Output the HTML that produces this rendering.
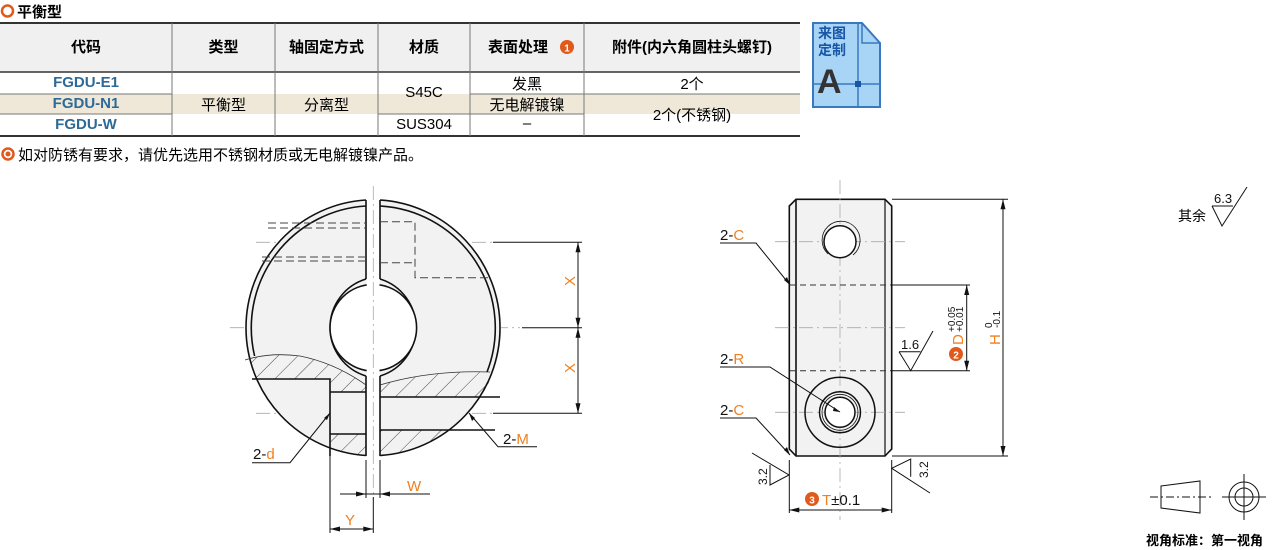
<!DOCTYPE html>
<html><head><meta charset="utf-8"><style>
body{margin:0;width:1279px;height:550px;background:#fff;position:relative;overflow:hidden;font-family:"Liberation Sans","Noto Sans CJK SC",sans-serif;}
.t{position:absolute;white-space:nowrap;font-family:"Liberation Sans","Noto Sans CJK SC",sans-serif;}
</style></head><body>
<svg width="1279" height="550" style="position:absolute;left:0;top:0" xmlns="http://www.w3.org/2000/svg">
<defs>
<pattern id="h" width="14" height="14" patternUnits="userSpaceOnUse" patternTransform="rotate(45)"><line x1="0" y1="0" x2="0" y2="14" stroke="#333" stroke-width="0.9"/></pattern>
<clipPath id="c"><circle cx="373.3" cy="327.7" r="128"/></clipPath>
</defs>
<circle cx="7.5" cy="11" r="5.5" fill="none" stroke="#e05a1c" stroke-width="2.5"/>
<rect x="0" y="23" width="800" height="49" fill="#f0f0f0"/>
<rect x="0" y="94" width="800" height="20" fill="#efe8d8"/>
<line x1="0" y1="23" x2="800" y2="23" stroke="#333" stroke-width="2"/>
<line x1="0" y1="72" x2="800" y2="72" stroke="#333" stroke-width="1.5"/>
<line x1="0" y1="136" x2="800" y2="136" stroke="#333" stroke-width="2"/>
<g stroke="#777" stroke-width="1">
<line x1="172" y1="23" x2="172" y2="136"/><line x1="275" y1="23" x2="275" y2="136"/><line x1="378" y1="23" x2="378" y2="136"/><line x1="470" y1="23" x2="470" y2="136"/><line x1="584" y1="23" x2="584" y2="136"/>
<line x1="0" y1="94" x2="172" y2="94"/><line x1="0" y1="114" x2="172" y2="114"/>
<line x1="378" y1="114" x2="470" y2="114"/>
<line x1="470" y1="94" x2="800" y2="94"/><line x1="470" y1="114" x2="584" y2="114"/>
</g>
<circle cx="567" cy="47" r="7" fill="#e05a1c"/>
<text x="567" y="51.5" font-size="10" font-weight="bold" fill="#fff" text-anchor="middle" font-family="Liberation Sans">1</text>
<circle cx="8" cy="154" r="5.5" fill="none" stroke="#e05a1c" stroke-width="2.5"/><circle cx="8" cy="154" r="2.5" fill="#e05a1c"/>
<path d="M813,23 H862 L880,43 V107 H813 Z" fill="#a8d4f5" stroke="#3a78c0" stroke-width="2"/>
<path d="M862,23 V43 H880" fill="none" stroke="#3a78c0" stroke-width="1.5"/>
<line x1="858" y1="23" x2="858" y2="107" stroke="#3a78c0" stroke-width="1.5"/>
<line x1="813" y1="84" x2="880" y2="84" stroke="#3a78c0" stroke-width="1.5"/>
<rect x="855" y="81" width="6" height="6" fill="#1a56a8"/>

<g stroke="#aaa" stroke-width="0.8" stroke-dasharray="14,4,2,4">
<line x1="256" y1="242.3" x2="495" y2="242.3"/>
<line x1="230" y1="327.7" x2="520" y2="327.7"/>
<line x1="256" y1="413.3" x2="495" y2="413.3"/>
</g>
<g clip-path="url(#c)">
<circle cx="373.3" cy="327.7" r="128" fill="#f2f2f2"/>
<path d="M245,360 Q270,352 300,356 Q335,363 366,385 V392 H330 V379 H245 Z" fill="url(#h)"/>
<rect x="330" y="434" width="36" height="30" fill="url(#h)"/>
<path d="M380,385 Q430,370 500,372 V397 H380 Z" fill="url(#h)"/>
<rect x="380" y="430" width="130" height="40" fill="url(#h)"/>
</g>
<g fill="none" stroke="#111" stroke-width="1.6">
<path d="M366,200 A128,128 0 0 0 366,455.5"/>
<path d="M380,200 A128,128 0 0 1 380,455.5"/>
<path d="M366,206 A122,122 0 0 0 254.6,356"/>
<path d="M380,206 A122,122 0 0 1 487,372"/>
<path d="M366,279 A50.7,50.7 0 0 0 366,376 M380,279 A50.7,50.7 0 0 1 380,376"/>
<circle cx="373.3" cy="327.7" r="43.3" fill="#fff"/>
<path d="M252,379 H330 V456"/>
<path d="M330,392 H366 M330,434 H366"/>
<path d="M380,397 H500 M380,430 H495"/>
</g>
<rect x="366.7" y="196" width="12.8" height="262" fill="#fff"/>
<path d="M366,200 V279 M366,376 V456 M380,200 V279 M380,376 V456" stroke="#111" stroke-width="1.6" fill="none"/>
<line x1="373.3" y1="186" x2="373.3" y2="500" stroke="#aaa" stroke-width="0.8" stroke-dasharray="14,4,2,4"/>
<path d="M245,360 Q270,352 300,356 Q335,363 366,385" fill="none" stroke="#333" stroke-width="0.8"/>
<path d="M380,385 Q430,370 490,372" fill="none" stroke="#333" stroke-width="0.8"/>
<g stroke="#444" stroke-width="1" stroke-dasharray="8,4" fill="none">
<path d="M268,223 H366 M268,228 H366 M262,257 H366 M262,261 H366"/>
<path d="M380,221.7 H415 V277.7 H490 M380,262.7 H415"/>
</g>
<g stroke="#111" stroke-width="1" fill="none">
<line x1="493" y1="242.3" x2="582" y2="242.3"/>
<line x1="522" y1="327.7" x2="582" y2="327.7"/>
<line x1="493" y1="413.3" x2="582" y2="413.3"/>
<line x1="578" y1="242.3" x2="578" y2="413.3"/>
<path d="M330,413 L290,462.7 H252"/>
<path d="M469,413 L498,446.7 H537"/>
<line x1="366" y1="460" x2="366" y2="498"/><line x1="380" y1="460" x2="380" y2="498"/>
<line x1="340" y1="494" x2="430" y2="494"/>
<line x1="330" y1="456" x2="330" y2="533"/><line x1="373.3" y1="497" x2="373.3" y2="533"/>
<line x1="330" y1="529" x2="373" y2="529"/>
</g>
<g fill="#111">
<path d="M578,242.3 l-2.5,10 h5z M578,327.7 l-2.5,-10 h5z M578,327.7 l-2.5,10 h5z M578,413.3 l-2.5,-10 h5z"/>
<path d="M330,413 l-6,5 l3,2z M469,413 l3,8 l3,-3z"/>
<path d="M366,494 l-10,-2.5 v5z M380,494 l10,-2.5 v5z M330,529 l10,-2.5 v5z M373.3,529 l-10,-2.5 v5z"/>
</g>

<path d="M796,199.3 H885 L891.7,206 V449 L885,456 H796 L789.3,449 V206 Z" fill="#f2f2f2" stroke="#111" stroke-width="1.6"/>
<line x1="796" y1="199.3" x2="796" y2="456" stroke="#111" stroke-width="1.6"/>
<line x1="885" y1="199.3" x2="885" y2="456" stroke="#111" stroke-width="1.2"/>
<g stroke="#aaa" stroke-width="0.8" stroke-dasharray="14,4,2,4">
<line x1="840" y1="180" x2="840" y2="520"/>
<line x1="775" y1="241.7" x2="905" y2="241.7"/>
<line x1="775" y1="327.7" x2="905" y2="327.7"/>
<line x1="775" y1="412.3" x2="905" y2="412.3"/>
</g>
<g stroke="#333" stroke-width="1" stroke-dasharray="6,4"><line x1="790" y1="285" x2="891" y2="285"/><line x1="790" y1="370.7" x2="891" y2="370.7"/></g>
<g fill="none" stroke="#111" stroke-width="1.5">
<circle cx="840" cy="241.7" r="16" fill="#fff"/>
<path d="M828,254 A19,19 0 1 1 853,255" stroke-width="0.8"/>
<circle cx="840" cy="412.3" r="35"/>
<circle cx="840" cy="412.3" r="20.5"/>
<circle cx="840" cy="412.3" r="18" stroke-width="0.8"/>
<circle cx="840" cy="412.3" r="15" fill="#fff"/>
</g>
<g stroke="#111" stroke-width="1" fill="none">
<path d="M720,243 H756 L790,285"/><path d="M720,367 H770 L840,412"/><path d="M720,418 H756 L790,455"/>
<line x1="892" y1="199.3" x2="1008" y2="199.3"/><line x1="892" y1="456" x2="1008" y2="456"/>
<line x1="1003" y1="199.3" x2="1003" y2="456"/>
<line x1="892" y1="285" x2="970" y2="285"/><line x1="892" y1="370.7" x2="970" y2="370.7"/>
<line x1="966.7" y1="285" x2="966.7" y2="370.7"/>
<path d="M899,351.7 H920.5 M899,351.7 L910.7,370.7 L933,331"/>
<line x1="789.3" y1="460" x2="789.3" y2="513"/><line x1="891.7" y1="460" x2="891.7" y2="513"/>
<line x1="789.3" y1="510" x2="891.7" y2="510"/>
<path d="M752,453 L789,475 L770,485 V465"/>
<path d="M930,493 L891.7,468.3 L910.7,459 V476.7"/>
<path d="M1212,206 H1233 M1212,206 L1222,226 L1247,187"/>
</g>
<g fill="#111">
<path d="M790,285 l-3,-8 l-3,3z M840,412 l-6,-5 l-1,4z M790,455 l-3,-8 l-3,3z"/>
<path d="M1003,199.3 l-2.5,10 h5z M1003,456 l-2.5,-10 h5z M966.7,285 l-2.5,10 h5z M966.7,370.7 l-2.5,-10 h5z"/>
<path d="M789.3,510 l10,-2.5 v5z M891.7,510 l-10,-2.5 v5z"/>
</g>
<circle cx="956" cy="354" r="7" fill="#e05a1c"/>
<text x="956" y="358.5" font-size="10" font-weight="bold" fill="#fff" text-anchor="middle" font-family="Liberation Sans">2</text>
<circle cx="812" cy="499" r="7" fill="#e05a1c"/>
<text x="812" y="503.5" font-size="10" font-weight="bold" fill="#fff" text-anchor="middle" font-family="Liberation Sans">3</text>
<g font-family="Liberation Sans" font-size="15" fill="#111">
<text x="253" y="459">2-<tspan fill="#f08020">d</tspan></text>
<text x="503" y="444">2-<tspan fill="#f08020">M</tspan></text>
<text x="407" y="491" fill="#f08020">W</text>
<text x="345" y="525" fill="#f08020">Y</text>
<text x="720" y="240">2-<tspan fill="#f08020">C</tspan></text>
<text x="720" y="364">2-<tspan fill="#f08020">R</tspan></text>
<text x="720" y="415">2-<tspan fill="#f08020">C</tspan></text>
<text x="822" y="505"><tspan fill="#f08020">T</tspan>±0.1</text>
<text x="901" y="349" font-size="13">1.6</text>
<text x="1214" y="203" font-size="13">6.3</text>
<text transform="translate(575,286) rotate(-90)" fill="#f08020">X</text>
<text transform="translate(575,373) rotate(-90)" fill="#f08020">X</text>
<text transform="translate(963,345) rotate(-90)" fill="#f08020">D</text>
<text transform="translate(955,332) rotate(-90)" font-size="10">+0.05</text>
<text transform="translate(963,332) rotate(-90)" font-size="10">+0.01</text>
<text transform="translate(1000,345) rotate(-90)" fill="#f08020">H</text>
<text transform="translate(992,328) rotate(-90)" font-size="10">0</text>
<text transform="translate(1000,328) rotate(-90)" font-size="10">-0.1</text>
<text transform="translate(767,485) rotate(-90)" font-size="12">3.2</text>
<text transform="translate(928,478) rotate(-90)" font-size="12">3.2</text>
</g>
<g stroke="#111" stroke-width="1" fill="none">
<path d="M1161,486 L1200,481 V513 L1161,508 Z"/>
<line x1="1150" y1="497" x2="1212" y2="497" stroke-dasharray="8,3,2,3"/>
<circle cx="1244" cy="497" r="15"/><circle cx="1244" cy="497" r="9"/>
<line x1="1222" y1="497" x2="1266" y2="497"/><line x1="1244" y1="474" x2="1244" y2="520"/>
</g>
</svg>
<div class="t" style="left:17px;top:1px;font-size:15px;font-weight:bold;">平衡型</div>
<div class="t" style="left:0;top:36px;width:172px;text-align:center;font-size:15px;font-weight:bold">代码</div>
<div class="t" style="left:172px;top:36px;width:103px;text-align:center;font-size:15px;font-weight:bold">类型</div>
<div class="t" style="left:275px;top:36px;width:103px;text-align:center;font-size:15px;font-weight:bold">轴固定方式</div>
<div class="t" style="left:378px;top:36px;width:92px;text-align:center;font-size:15px;font-weight:bold">材质</div>
<div class="t" style="left:470px;top:36px;width:96px;text-align:center;font-size:15px;font-weight:bold">表面处理</div>
<div class="t" style="left:584px;top:36px;width:216px;text-align:center;font-size:15px;font-weight:bold">附件(内六角圆柱头螺钉)</div>
<div class="t" style="left:0;top:74px;width:172px;text-align:center;font-size:15px;font-weight:bold;color:#2e6a98">FGDU-E1</div>
<div class="t" style="left:0;top:95px;width:172px;text-align:center;font-size:15px;font-weight:bold;color:#2e6a98">FGDU-N1</div>
<div class="t" style="left:0;top:116px;width:172px;text-align:center;font-size:15px;font-weight:bold;color:#2e6a98">FGDU-W</div>
<div class="t" style="left:172px;top:94px;width:103px;text-align:center;font-size:15px">平衡型</div>
<div class="t" style="left:275px;top:94px;width:103px;text-align:center;font-size:15px">分离型</div>
<div class="t" style="left:378px;top:84px;width:92px;text-align:center;font-size:15px">S45C</div>
<div class="t" style="left:378px;top:116px;width:92px;text-align:center;font-size:15px">SUS304</div>
<div class="t" style="left:470px;top:73px;width:114px;text-align:center;font-size:15px">发黑</div>
<div class="t" style="left:470px;top:94px;width:114px;text-align:center;font-size:15px">无电解镀镍</div>
<div class="t" style="left:470px;top:115px;width:114px;text-align:center;font-size:15px">–</div>
<div class="t" style="left:584px;top:73px;width:216px;text-align:center;font-size:15px">2个</div>
<div class="t" style="left:584px;top:104px;width:216px;text-align:center;font-size:15px">2个(不锈钢)</div>
<div class="t" style="left:18px;top:144px;font-size:15px">如对防锈有要求，请优先选用不锈钢材质或无电解镀镍产品。</div>
<div class="t" style="left:818px;top:25px;font-size:14px;font-weight:bold;color:#1a56a8;line-height:17px">来图<br>定制</div>
<div class="t" style="left:817px;top:62px;font-size:34px;font-weight:bold;color:#333;line-height:40px">A</div>
<div class="t" style="left:1178px;top:206px;font-size:14px">其余</div>
<div class="t" style="left:1146px;top:530px;font-size:13px;font-weight:bold">视角标准：第一视角</div>
</body></html>
